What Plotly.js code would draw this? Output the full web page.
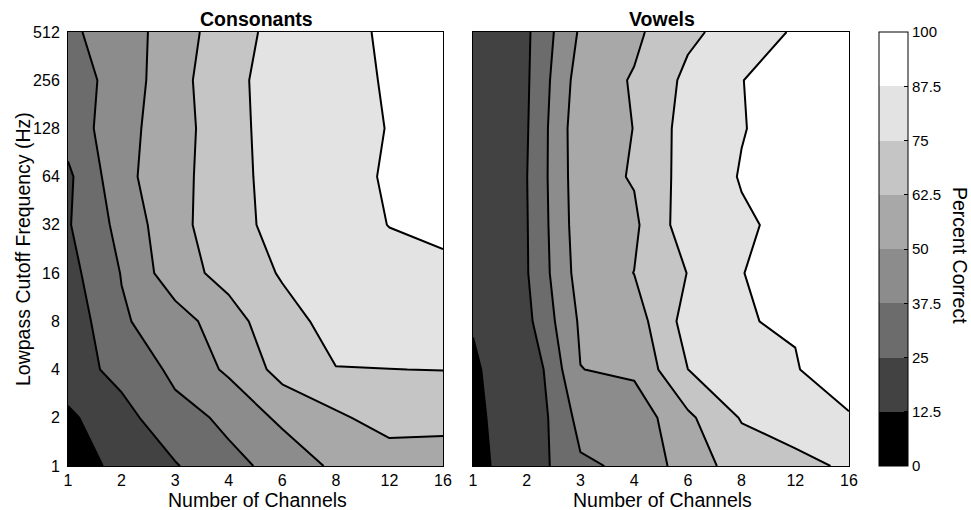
<!DOCTYPE html>
<html>
<head>
<meta charset="utf-8">
<script src="https://cdn.plot.ly/plotly-3.0.1.min.js"></script>
<style>
  html, body { margin: 0; padding: 0; background: #ffffff; }
  #chart { width: 971px; height: 510px; }
</style>
</head>
<body>
<div id="chart"></div>
<script>
// ---- data ----
const channels = [1, 2, 3, 4, 6, 8, 12, 16];                 // Number of Channels
const cutoffs  = [1, 2, 4, 8, 16, 32, 64, 128, 256, 512];    // Lowpass cutoff (Hz)
const levelTicks = [0, 12.5, 25, 37.5, 50, 62.5, 75, 87.5, 100];

// Percent correct, one row per cutoff (1 Hz ... 512 Hz), one column per channel count
const consonantsPct = [
  [ 5.1, 16.5, 24.0, 35.2, 40.2, 52.9, 55.1, 58.4],
  [10.4, 20.4, 34.0, 39.4, 53.0, 60.2, 67.9, 65.0],
  [18.9, 29.1, 40.0, 52.2, 66.7, 74.7, 74.9, 75.2],
  [16.7, 36.0, 44.2, 57.7, 70.5, 79.2, 81.0, 81.5],
  [20.7, 38.0, 57.7, 66.4, 76.2, 80.5, 84.0, 85.0],
  [24.0, 41.3, 59.1, 69.5, 80.1, 83.5, 87.7, 90.0],
  [22.6, 46.2, 58.9, 69.2, 81.8, 84.5, 88.4, 92.0],
  [30.1, 45.5, 57.7, 70.0, 81.9, 84.5, 87.8, 92.0],
  [30.2, 43.5, 57.6, 72.4, 79.2, 83.5, 88.6, 92.0],
  [35.1, 44.0, 56.2, 69.9, 79.2, 83.5, 89.5, 92.0]
];
const vowelsPct = [
  [10.4, 16.8, 35.9, 39.5, 56.4, 67.7, 71.0, 77.1],
  [12.0, 14.0, 41.5, 42.3, 60.1, 75.9, 82.0, 86.7],
  [12.3, 13.6, 49.8, 52.3, 74.95, 82.0, 87.0, 92.6],
  [12.6, 21.7, 51.8, 56.4, 80.0, 87.2, 88.1, 92.0],
  [20.0, 24.1, 55.3, 62.65, 75.3, 87.3, 91.0, 92.0],
  [20.0, 24.35, 56.85, 60.3, 82.2, 86.0, 90.4, 93.0],
  [20.0, 24.7, 57.6, 63.4, 80.2, 88.2, 92.0, 94.0],
  [20.0, 24.0, 58.2, 62.63, 80.3, 87.0, 92.0, 94.0],
  [20.0, 23.4, 55.9, 63.5, 77.8, 87.3, 92.0, 94.0],
  [20.0, 23.0, 51.7, 60.0, 72.5, 80.3, 88.9, 93.0]
];

// ---- styling ----
const grays = ['#000000', '#424242', '#6c6c6c', '#8c8c8c', '#a8a8a8', '#c5c5c5', '#e3e3e3', '#ffffff'];
const FONT = 'Liberation Sans, Arial, Helvetica, sans-serif';
const W = 971, H = 510;

// positions of the channel categories and cutoff steps (equally spaced)
const xPos = channels.map((c, i) => i);
const yPos = cutoffs.map((c, i) => i);

const bandScale = grays.map((g, i) => [i / (grays.length - 1), g]);
const stepScale = [];
grays.forEach((g, i) => {
  stepScale.push([i / grays.length, g]);
  stepScale.push([(i + 1) / grays.length, g]);
});

function contourTrace(z, xa, ya) {
  return {
    type: 'contour', x: xPos, y: yPos, z: z,
    xaxis: xa, yaxis: ya,
    zmin: 0, zmax: 100, zauto: false,
    colorscale: bandScale, showscale: false,
    contours: { start: 12.5, end: 87.5, size: 12.5, coloring: 'fill', showlines: true },
    line: { color: '#000000', width: 2, smoothing: 0 },
    hoverinfo: 'skip'
  };
}

// invisible carrier for the stepped colour bar
const cbTrace = {
  type: 'scatter', mode: 'markers', x: [0, 0], y: [0, 0],
  xaxis: 'x', yaxis: 'y', hoverinfo: 'skip', showlegend: false,
  marker: {
    size: 1, opacity: 0, color: [levelTicks[0], levelTicks[levelTicks.length - 1]],
    cmin: 0, cmax: 100, colorscale: stepScale, showscale: true,
    colorbar: {
      x: 879 / W, xanchor: 'left', xpad: 0,
      y: 1 - 249 / H, yanchor: 'middle', ypad: 0,
      thicknessmode: 'pixels', thickness: 29,
      lenmode: 'pixels', len: 434,
      outlinecolor: '#000000', outlinewidth: 1,
      tickmode: 'array', tickvals: levelTicks, ticktext: levelTicks.map(String),
      ticks: 'inside', ticklen: 4, tickcolor: '#000000', tickwidth: 1,
      tickfont: { family: FONT, size: 15, color: '#000000' }
    }
  }
};

const axCommon = {
  showline: true, mirror: true, linecolor: '#000000', linewidth: 1,
  showgrid: false, zeroline: false, ticks: '', fixedrange: true,
  tickfont: { family: FONT, size: 16, color: '#000000' }
};

const layout = {
  width: W, height: H,
  margin: { l: 0, r: 0, t: 0, b: 0 },
  paper_bgcolor: '#ffffff', plot_bgcolor: '#ffffff',
  showlegend: false,
  font: { family: FONT, color: '#000000' },
  xaxis: Object.assign({}, axCommon, {
    domain: [68 / W, 443 / W], range: [0, channels.length - 1], anchor: 'y',
    tickmode: 'array', tickvals: xPos, ticktext: channels.map(String)
  }),
  yaxis: Object.assign({}, axCommon, {
    domain: [44 / H, 478 / H], range: [0, cutoffs.length - 1], anchor: 'x',
    tickmode: 'array', tickvals: yPos, ticktext: cutoffs.map(String),
    ticks: 'outside', ticklen: 4, tickcolor: 'rgba(0,0,0,0)'
  }),
  xaxis2: Object.assign({}, axCommon, {
    domain: [473 / W, 849 / W], range: [0, channels.length - 1], anchor: 'y2',
    tickmode: 'array', tickvals: xPos, ticktext: channels.map(String)
  }),
  yaxis2: Object.assign({}, axCommon, {
    domain: [44 / H, 478 / H], range: [0, cutoffs.length - 1], anchor: 'x2',
    tickmode: 'array', tickvals: yPos, ticktext: cutoffs.map(String),
    showticklabels: false
  }),
  annotations: [
    { text: '<b>Consonants</b>', x: 256 / W, y: 1 - 19 / H, xref: 'paper', yref: 'paper',
      showarrow: false, xanchor: 'center', yanchor: 'middle', font: { family: FONT, size: 19.5, color: '#000' } },
    { text: '<b>Vowels</b>', x: 662 / W, y: 1 - 19 / H, xref: 'paper', yref: 'paper',
      showarrow: false, xanchor: 'center', yanchor: 'middle', font: { family: FONT, size: 19.5, color: '#000' } },
    { text: 'Number of Channels', x: 257 / W, y: 1 - 500 / H, xref: 'paper', yref: 'paper',
      showarrow: false, xanchor: 'center', yanchor: 'middle', font: { family: FONT, size: 19.5, color: '#000' } },
    { text: 'Number of Channels', x: 662 / W, y: 1 - 500 / H, xref: 'paper', yref: 'paper',
      showarrow: false, xanchor: 'center', yanchor: 'middle', font: { family: FONT, size: 19.5, color: '#000' } },
    { text: 'Lowpass Cutoff Frequency (Hz)', x: 23 / W, y: 1 - 249 / H, xref: 'paper', yref: 'paper',
      showarrow: false, xanchor: 'center', yanchor: 'middle', textangle: -90,
      font: { family: FONT, size: 19.5, color: '#000' } },
    { text: 'Percent Correct', x: 960 / W, y: 1 - 255 / H, xref: 'paper', yref: 'paper',
      showarrow: false, xanchor: 'center', yanchor: 'middle', textangle: 90,
      font: { family: FONT, size: 19.5, color: '#000' } }
  ]
};

Plotly.newPlot('chart',
  [contourTrace(consonantsPct, 'x', 'y'), contourTrace(vowelsPct, 'x2', 'y2'), cbTrace],
  layout, { displayModeBar: false, staticPlot: true });
</script>
</body>
</html>
